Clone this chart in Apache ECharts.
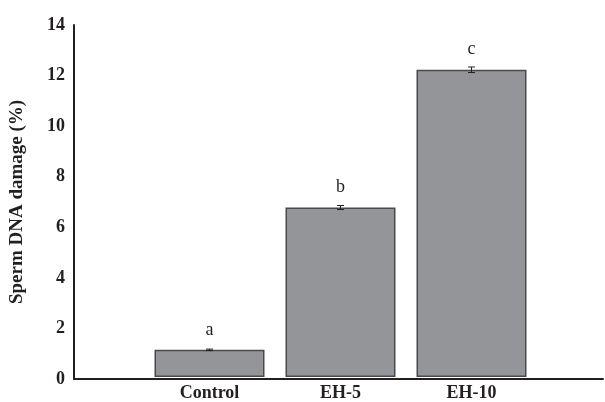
<!DOCTYPE html>
<html>
<head>
<meta charset="utf-8">
<script src="https://cdn.jsdelivr.net/npm/echarts@6/dist/echarts.min.js"></script>
<style>html,body{margin:0;padding:0;background:#fff}#c{width:605px;height:402px}</style>
</head>
<body>
<div id="c"></div>
<script>
var categories = ['Control', 'EH-5', 'EH-10'];
var values = [1.08, 6.74, 12.22];
var errors = [0.03, 0.08, 0.11];
var letters = ['a', 'b', 'c'];
var yTicks = [0, 2, 4, 6, 8, 10, 12, 14];

var FONT = '"Liberation Serif", "Times New Roman", serif';
var chart = echarts.init(document.getElementById('c'));
chart.setOption({
  animation: false,
  grid: [
    {left: 72, right: 2, top: 25, bottom: 23},
    {left: 144, width: 393, top: 25, bottom: 23}
  ],
  xAxis: [
    {gridIndex: 0, type: 'value', min: 0, max: 1, axisLine: {show: true, lineStyle: {color: '#231f20', width: 2}},
     axisTick: {show: false}, axisLabel: {show: false}, splitLine: {show: false}},
    {gridIndex: 1, type: 'category', data: categories, axisLine: {show: false}, axisTick: {show: false},
     axisLabel: {color: '#231f20', fontFamily: FONT, fontWeight: 'bold', fontSize: 18, margin: 7}}
  ],
  yAxis: [
    {gridIndex: 0, type: 'value', min: yTicks[0], max: yTicks[yTicks.length - 1], interval: 2,
     axisLine: {show: true, lineStyle: {color: '#231f20', width: 2}}, axisTick: {show: false}, splitLine: {show: false},
     axisLabel: {color: '#231f20', fontFamily: FONT, fontWeight: 'bold', fontSize: 18, margin: 9},
     name: 'Sperm DNA damage (%)', nameLocation: 'middle', nameGap: 47,
     nameTextStyle: {color: '#231f20', fontFamily: FONT, fontWeight: 'bold', fontSize: 19}},
    {gridIndex: 1, type: 'value', min: 0, max: 14, show: false}
  ],
  series: [
    {type: 'bar', xAxisIndex: 1, yAxisIndex: 1, data: values, barWidth: 110,
     itemStyle: {color: '#939598', borderColor: '#4a4a4c', borderWidth: 1.5},
     label: {show: true, position: 'top', distance: 11, formatter: function (p) { return letters[p.dataIndex]; },
       color: '#231f20', fontFamily: FONT, fontSize: 18}},
    {type: 'custom', xAxisIndex: 1, yAxisIndex: 1, z: 10,
     data: values.map(function (v, i) { return [i, v - errors[i], v + errors[i]]; }),
     renderItem: function (params, api) {
       var lo = api.coord([api.value(0), api.value(1)]);
       var hi = api.coord([api.value(0), api.value(2)]);
       var w = 3.5;
       var st = {stroke: '#231f20', lineWidth: 1};
       return {type: 'group', children: [
         {type: 'line', shape: {x1: lo[0], y1: lo[1], x2: hi[0], y2: hi[1]}, style: st},
         {type: 'line', shape: {x1: lo[0] - w, y1: lo[1], x2: lo[0] + w, y2: lo[1]}, style: st},
         {type: 'line', shape: {x1: hi[0] - w, y1: hi[1], x2: hi[0] + w, y2: hi[1]}, style: st}
       ]};
     }}
  ]
});
</script>
</body>
</html>
